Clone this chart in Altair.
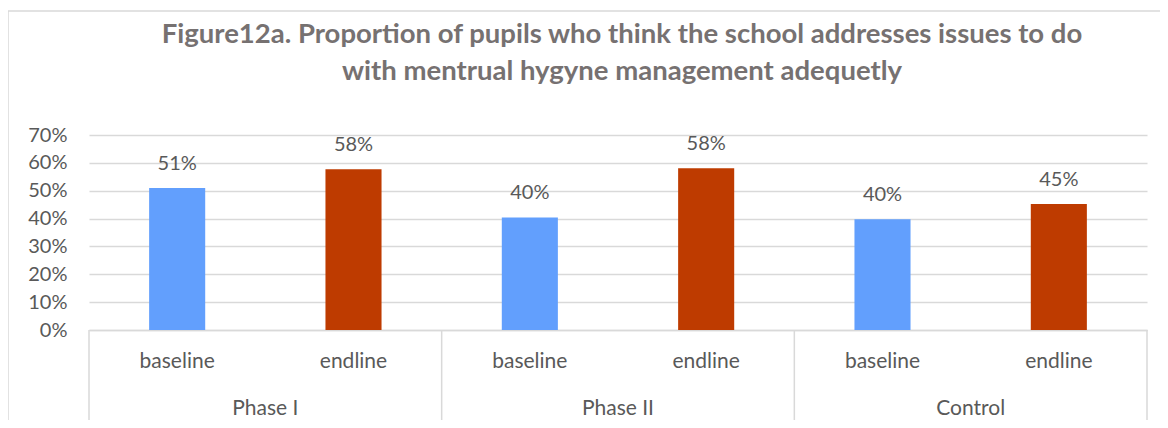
import altair as alt
import pandas as pd

groups = ["Phase I", "Phase I", "Phase II", "Phase II", "Control", "Control"]
periods = ["baseline", "endline", "baseline", "endline", "baseline", "endline"]
values = [0.51, 0.577, 0.404, 0.581, 0.398, 0.452]
phases = ["Phase I", "Phase II", "Control"]
y_ticks = [0, 0.1, 0.2, 0.3, 0.4, 0.5, 0.6, 0.7]
title_lines = ["Figure12a. Proportion of pupils who think the school addresses issues to do",
               "with mentrual hygyne management adequetly"]

keys = [g + "|" + p for g, p in zip(groups, periods)]
df = pd.DataFrame({"key": keys, "group": groups, "period": periods, "value": values})
phase_df = pd.DataFrame({"key": [p + "|endline" for p in phases], "phase": phases})
sep_df = pd.DataFrame({"key": [p + "|baseline" for p in phases]})
end_df = pd.DataFrame({"key": [keys[-1]]})

W, H = 1058, 195
FONT = "Lato"
TXT = "#595959"
LINE = "#d9d9d9"

xscale = alt.Scale(domain=keys, paddingInner=0, paddingOuter=0)
yscale = alt.Scale(domain=[0, 0.7])
xaxis = alt.Axis(title=None, labelAngle=0, ticks=False, grid=False,
                 labelExpr="split(datum.label, '|')[1]",
                 labelFontSize=21, labelColor=TXT, labelFont=FONT,
                 labelPadding=20, domainColor=LINE, domainWidth=1.5)
yaxis = alt.Axis(title=None, format=".0%", values=y_ticks, domain=False,
                 ticks=False, labelFontSize=20, labelColor=TXT, labelFont=FONT,
                 labelOverlap=False, labelPadding=22, gridColor=LINE, gridWidth=1.5)


def xk(band=None):
    if band is None:
        return alt.X("key:N", scale=xscale, sort=keys, axis=xaxis)
    return alt.X("key:N", scale=xscale, sort=keys, axis=xaxis, bandPosition=band)


bars = alt.Chart(df).mark_bar(width={"band": 0.318}).encode(
    x=xk(),
    y=alt.Y("value:Q", scale=yscale, axis=yaxis),
    color=alt.Color("period:N", scale=alt.Scale(domain=["baseline", "endline"],
                                                range=["#629ffd", "#be3b00"]),
                    legend=None),
)

labels = alt.Chart(df).mark_text(baseline="bottom", dy=-14, fontSize=20, font=FONT,
                                 color=TXT).encode(
    x=xk(),
    y=alt.Y("value:Q", scale=yscale, axis=yaxis),
    text=alt.Text("value:Q", format=".0%"),
)

phase_text = alt.Chart(phase_df).mark_text(fontSize=21, font=FONT, color=TXT,
                                           baseline="middle").encode(
    x=xk(0),
    y=alt.value(H + 79),
    text="phase:N",
)

seps = alt.Chart(sep_df).mark_rule(color=LINE, strokeWidth=1.5).encode(
    x=xk(0),
    y=alt.value(H),
    y2=alt.value(H + 92),
)
end_sep = alt.Chart(end_df).mark_rule(color=LINE, strokeWidth=1.5).encode(
    x=xk(1),
    y=alt.value(H),
    y2=alt.value(H + 92),
)

title_layers = []
for line, ypos in zip(title_lines, [-100, -63]):
    tdf = pd.DataFrame({"line": [line]})
    title_layers.append(
        alt.Chart(tdf).mark_text(font=FONT, fontSize=27.5, fontWeight="bold",
                                 color="#767171", baseline="middle",
                                 align="center").encode(
            x=alt.value(533), y=alt.value(ypos), text="line:N"))

border_left = alt.Chart(end_df).mark_rule(color=LINE, strokeWidth=1.5).encode(
    x=alt.value(-81), y=alt.value(-124), y2=alt.value(H + 100))
border_top = alt.Chart(end_df).mark_rule(color=LINE, strokeWidth=1.5).encode(
    x=alt.value(-81), x2=alt.value(W + 13), y=alt.value(-124))

chart = alt.layer(border_left, border_top, *title_layers, bars, labels, phase_text,
                  seps, end_sep).properties(
    width=W, height=H,
    autosize=alt.AutoSizeParams(type="none"),
    padding={"left": 81, "top": 127, "right": 13, "bottom": 90},
).configure_view(stroke=None)

chart.save("out.html", embed_options={"renderer": "svg", "actions": False})
